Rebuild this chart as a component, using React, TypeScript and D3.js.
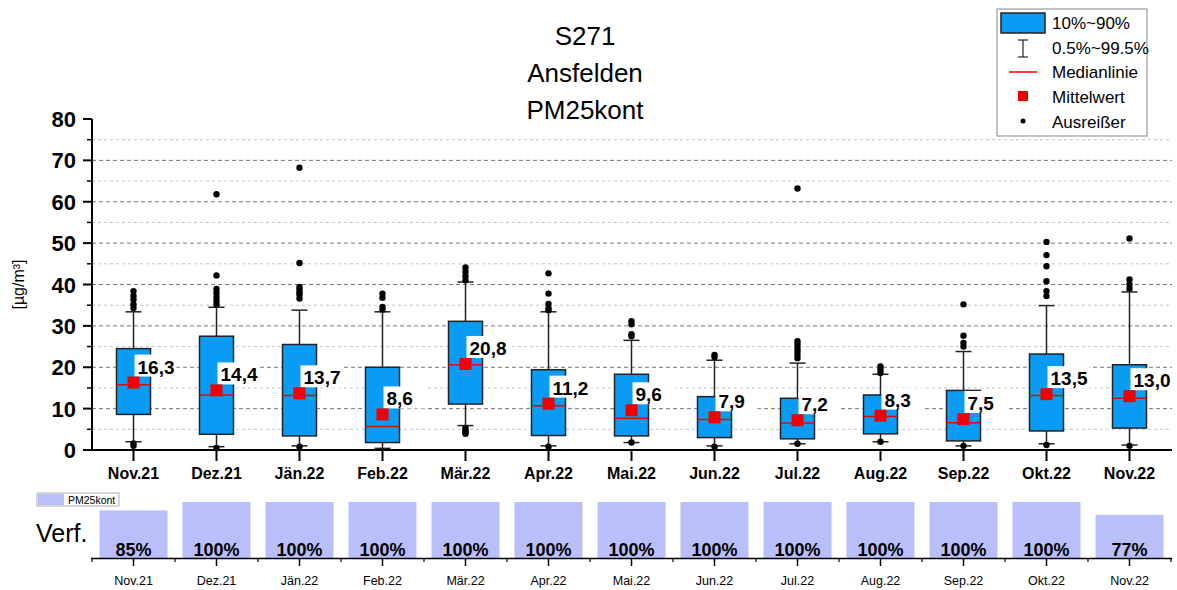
import React from "react";
import * as d3 from "d3";

const months = ["Nov.21","Dez.21","Jän.22","Feb.22","Mär.22","Apr.22","Mai.22","Jun.22","Jul.22","Aug.22","Sep.22","Okt.22","Nov.22"];
const p10 = [8.6,3.8,3.4,1.8,11.1,3.5,3.4,3.0,2.7,3.9,2.2,4.6,5.3];
const p90 = [24.5,27.5,25.5,20.0,31.1,19.4,18.3,12.9,12.5,13.3,14.4,23.2,20.6];
const medians = [15.8,13.3,13.2,5.7,20.6,10.7,7.7,7.4,6.5,8.1,6.6,13.2,12.5];
const means = [16.3,14.4,13.7,8.6,20.8,11.2,9.6,7.9,7.2,8.3,7.5,13.5,13.0];
const p005 = [2.0,0.8,1.0,0.4,5.9,1.0,1.8,1.0,1.5,2.0,1.0,1.5,1.2];
const p995 = [33.4,34.5,33.8,33.4,40.6,33.4,26.5,21.7,21.0,18.3,23.8,34.9,38.2];
const outliers = [
  [38.4,37.3,36.4,35.2,34.3,1.6,1.0],
  [61.8,42.2,38.9,38.0,37.0,36.0,35.2,0.5],
  [68.2,45.2,39.4,38.8,38.1,37.6,36.6,0.8],
  [37.8,36.8,34.6,33.9],
  [44.1,43.1,42.0,41.0,5.3,4.8,4.3,3.9],
  [42.7,37.8,35.3,34.3,33.8,0.8],
  [31.1,30.4,28.0,27.5,1.8],
  [23.0,22.5,0.8],
  [63.2,26.3,25.5,24.6,23.8,23.0,22.2,1.5],
  [20.2,19.4,18.6,2.0],
  [35.2,27.6,25.9,25.0,1.0],
  [50.3,47.1,44.4,40.8,38.4,37.2,1.2],
  [51.1,41.2,40.0,39.0,1.0],
];
const availability = [85,100,100,100,100,100,100,100,100,100,100,100,77];
const yTicks = [0,10,20,30,40,50,60,70,80];
const yMinor = [5,15,25,35,45,55,65,75];

const FONT = "'Liberation Sans', Arial, sans-serif";
const BLUE = "#0A9BF5";
const RED = "#F00000";
const LAV = "#B9BFFA";

export default function App() {
  const x = d3.scaleBand<string>().domain(months).range([92, 1171]).padding(0);
  const y = d3.scaleLinear().domain([0, 80]).range([450, 119]);
  const yA = d3.scaleLinear().domain([0, 100]).range([558, 502]);
  const bw = 34;
  const cx = (m: string) => (x(m) as number) + x.bandwidth() / 2;
  const fmt = (v: number) => v.toFixed(1).replace(".", ",");

  return (
    <svg width={1177} height={590} style={{ position: "absolute", left: 0, top: 0, background: "#fff" }} fontFamily={FONT}>
      <rect width={1177} height={590} fill="#fff" />
      {/* Title */}
      <g textAnchor="middle" fontSize={26} fill="#000">
        <text x={585} y={45}>S271</text>
        <text x={585} y={82}>Ansfelden</text>
        <text x={585} y={119}>PM25kont</text>
      </g>

      {/* grid */}
      {yMinor.map((v) => (
        <line key={"gm" + v} x1={92} x2={1172} y1={y(v)} y2={y(v)} stroke="#c4c4c4" strokeWidth={1} strokeDasharray="3,3" />
      ))}
      {yTicks.filter((v) => v > 0 && v < 80).map((v) => (
        <line key={"gM" + v} x1={92} x2={1172} y1={y(v)} y2={y(v)} stroke="#777" strokeWidth={1} strokeDasharray="4,3" />
      ))}

      {/* y axis */}
      <line x1={92} x2={92} y1={y(0)} y2={y(80)} stroke="#000" strokeWidth={2} />
      {yTicks.map((v) => (
        <g key={"yt" + v}>
          <line x1={83} x2={92} y1={y(v)} y2={y(v)} stroke="#000" strokeWidth={2} />
          <text x={76} y={y(v) + 8} textAnchor="end" fontSize={22} fontWeight="bold">{v}</text>
        </g>
      ))}
      {yMinor.map((v) => (
        <line key={"ym" + v} x1={87} x2={92} y1={y(v)} y2={y(v)} stroke="#000" strokeWidth={1.5} />
      ))}
      <text transform={`translate(24,${y(40)}) rotate(-90)`} textAnchor="middle" fontSize={16}>[µg/m³]</text>

      {/* x axis */}
      <line x1={91} x2={1172} y1={y(0)} y2={y(0)} stroke="#000" strokeWidth={2} />
      {months.map((m) => (
        <g key={"xt" + m}>
          <line x1={cx(m)} x2={cx(m)} y1={y(0)} y2={y(0) + 11} stroke="#000" strokeWidth={2} />
          <text x={cx(m)} y={479} textAnchor="middle" fontSize={16} fontWeight="bold">{m}</text>
        </g>
      ))}

      {/* boxes */}
      {months.map((m, i) => {
        const c = cx(m);
        return (
          <g key={"b" + m}>
            <line x1={c} x2={c} y1={y(p995[i])} y2={y(p90[i])} stroke="#222" strokeWidth={1.5} />
            <line x1={c} x2={c} y1={y(p10[i])} y2={y(p005[i])} stroke="#222" strokeWidth={1.5} />
            <line x1={c - 8} x2={c + 8} y1={y(p995[i])} y2={y(p995[i])} stroke="#222" strokeWidth={1.5} />
            <line x1={c - 8} x2={c + 8} y1={y(p005[i])} y2={y(p005[i])} stroke="#222" strokeWidth={1.5} />
            <rect x={c - bw / 2} y={y(p90[i])} width={bw} height={y(p10[i]) - y(p90[i])} fill={BLUE} stroke="#222" strokeWidth={1.5} />
            <line x1={c - bw / 2} x2={c + bw / 2} y1={y(medians[i])} y2={y(medians[i])} stroke="#D01010" strokeWidth={1.5} />
            {outliers[i].map((v, j) => (
              <circle key={j} cx={c} cy={y(v)} r={3.2} fill="#000" />
            ))}
          </g>
        );
      })}
      {/* mean labels */}
      {months.map((m, i) => {
        const c = cx(m);
        const my = y(means[i]);
        return (
          <g key={"l" + m}>
            <rect x={c + 1} y={my - 28} width={42} height={22} fill="#fff" />
            <text x={c + 4} y={my - 9} fontSize={19} fontWeight="bold">{fmt(means[i])}</text>
            <rect x={c - 6} y={my - 6} width={12} height={12} fill={RED} />
          </g>
        );
      })}

      {/* legend */}
      <g>
        <rect x={997} y={9} width={150} height={127} fill="#fff" stroke="#888" strokeWidth={1} />
        <rect x={1001} y={13} width={44} height={20} fill={BLUE} stroke="#222" strokeWidth={1.5} />
        <line x1={1023} x2={1023} y1={40} y2={57} stroke="#222" strokeWidth={1.2} />
        <line x1={1018} x2={1028} y1={40} y2={40} stroke="#222" strokeWidth={1.2} />
        <line x1={1018} x2={1028} y1={57} y2={57} stroke="#222" strokeWidth={1.2} />
        <line x1={1009} x2={1037} y1={72} y2={72} stroke={RED} strokeWidth={1.5} />
        <rect x={1018} y={91} width={10} height={10} fill={RED} />
        <circle cx={1023} cy={121} r={2.5} fill="#000" />
        <g fontSize={17}>
          <text x={1052} y={29}>10%~90%</text>
          <text x={1052} y={54}>0.5%~99.5%</text>
          <text x={1052} y={78}>Medianlinie</text>
          <text x={1052} y={103}>Mittelwert</text>
          <text x={1052} y={128}>Ausreißer</text>
        </g>
      </g>

      {/* availability panel */}
      <rect x={37} y={493} width={82} height={13} fill="#fff" stroke="#999" strokeWidth={0.8} />
      <rect x={38} y={494} width={26} height={11} fill={LAV} />
      <text x={68} y={504} fontSize={10.5}>PM25kont</text>
      <text x={36} y={542} fontSize={25}>Verf.</text>
      {months.map((m, i) => {
        const c = cx(m);
        return (
          <g key={"a" + m}>
            <rect x={c - 34} y={yA(availability[i])} width={68} height={yA(0) - yA(availability[i])} fill={LAV} />
            <text x={c} y={556} textAnchor="middle" fontSize={18} fontWeight="bold">{availability[i] + "%"}</text>
          </g>
        );
      })}
      <line x1={91} x2={1172} y1={558.5} y2={558.5} stroke="#000" strokeWidth={1.5} />
      {months.map((m) => (
        <g key={"ax" + m}>
          <line x1={cx(m)} x2={cx(m)} y1={558} y2={566} stroke="#000" strokeWidth={1.5} />
          <line x1={x(m) as number} x2={x(m) as number} y1={558} y2={562} stroke="#000" strokeWidth={1.2} />
          <text x={cx(m)} y={585} textAnchor="middle" fontSize={12.5}>{m}</text>
        </g>
      ))}
      <line x1={1171} x2={1171} y1={558} y2={562} stroke="#000" strokeWidth={1.2} />
    </svg>
  );
}
